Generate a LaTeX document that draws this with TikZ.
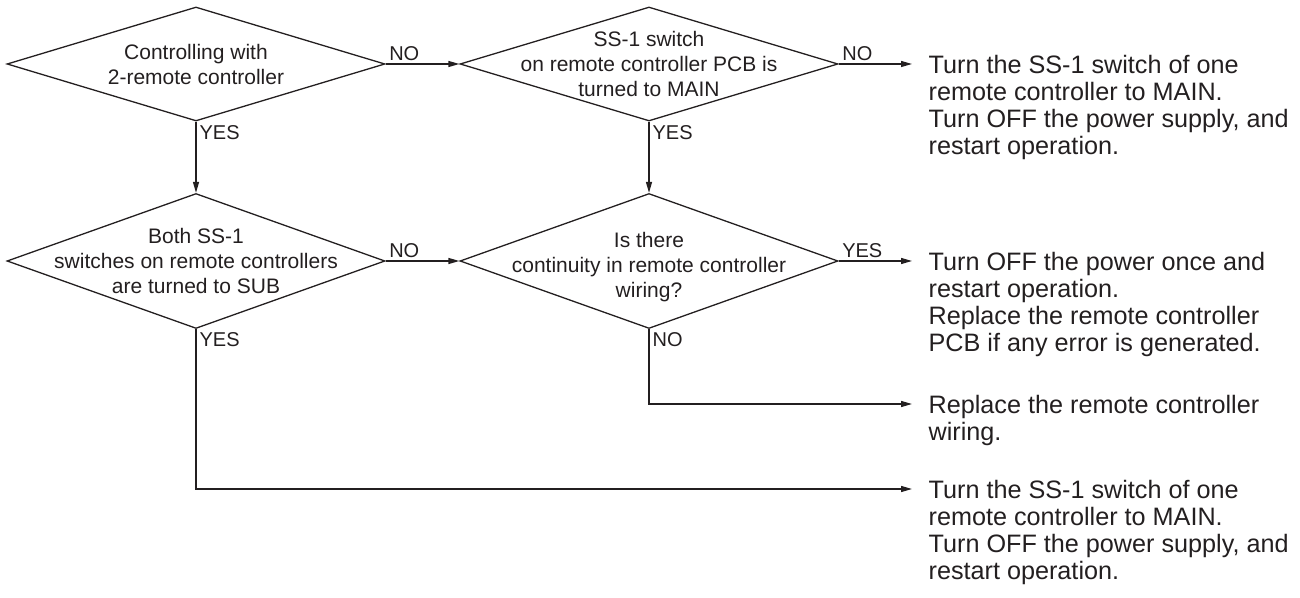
\documentclass[tikz,border=0pt]{standalone}
\usepackage{fontspec}
\setmainfont{Liberation Sans}
\usepackage{tikz}
\usetikzlibrary{arrows.meta,positioning,calc,shapes.geometric}
\definecolor{ink}{HTML}{231F20}

\begin{document}
\begin{tikzpicture}[x=0.5pt,y=-0.5pt,line width=0.65pt,draw=ink,text=ink,
    decision/.style={diamond,draw=ink,inner sep=0pt,minimum width=189pt,minimum height=57pt},
    tall/.style={minimum height=67.5pt},
    qtext/.style={align=center,inner sep=0pt,font=\fontsize{10.5pt}{12.5pt}\selectfont},
    action/.style={anchor=north west,align=left,inner sep=0pt,font=\fontsize{12.6pt}{13.5pt}\selectfont},
    lbl/.style={inner sep=1.5pt,font=\fontsize{10pt}{12pt}\selectfont},
    flow/.style={draw=ink,-{Triangle[length=5.5pt,width=3pt]}}]
  \useasboundingbox (0,0) rectangle (1300,598);

  % questions
  \node[decision] (d1) at (196,64) {};
  \node[qtext] (q1) at (d1) {Controlling with\\2-remote controller};
  \node[decision] (d2) at (649,64) {};
  \node[qtext] (q2) at (d2) {SS-1 switch\\on remote controller PCB is\\turned to MAIN};
  \node[decision,tall] (d3) at (196,261) {};
  \node[qtext] (q3) at (d3) {Both SS-1\\switches on remote controllers\\are turned to SUB};
  \node[decision,tall] (d4) at (649,261) {};
  \node[qtext] (q4) at ([yshift=-3pt]d4.center) {Is there\\continuity in remote controller\\wiring?};

  % what to do
  \node[action] (a1) at (928,54.6) {Turn the SS-1 switch of one\\remote controller to MAIN.\\Turn OFF the power supply, and\\restart operation.};
  \node[action] (a2) at (928,251.6) {Turn OFF the power once and\\restart operation.\\Replace the remote controller\\PCB if any error is generated.};
  \node[action] (a3) at (928,394.6) {Replace the remote controller\\wiring.};
  \node[action] (a4) at (928,479.6) {Turn the SS-1 switch of one\\remote controller to MAIN.\\Turn OFF the power supply, and\\restart operation.};
  \foreach \i in {1,...,4}
    \coordinate (t\i) at ([xshift=-8pt,yshift=-4.7pt]a\i.north west);

  % connectors
  \draw[flow] (d1.east) -- node[lbl,pos=0,anchor=south west] (n1) {NO} (d2.west);
  \draw[flow] (d2.east) -- node[lbl,pos=0,anchor=south west] (n2) {NO} (d2.east -| t1);
  \draw[flow] (d1.south) -- node[lbl,pos=0,anchor=north west] (y1) {YES} (d3.north);
  \draw[flow] (d2.south) -- node[lbl,pos=0,anchor=north west] (y2) {YES} (d4.north);
  \draw[flow] (d3.east) -- node[lbl,pos=0,anchor=south west] (n3) {NO} (d4.west);
  \draw[flow] (d4.east) -- node[lbl,pos=0,anchor=south west] (y4) {YES} (d4.east -| t2);
  \draw[flow] (d4.south) |- node[lbl,pos=0,anchor=north west] (n4) {NO} (t3);
  \draw[flow] (d3.south) |- node[lbl,pos=0,anchor=north west] (y3) {YES} (t4);
\end{tikzpicture}
\end{document}
